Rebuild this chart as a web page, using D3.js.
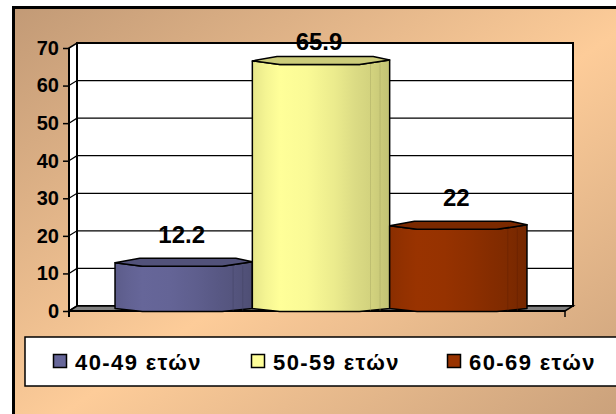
<!DOCTYPE html>
<html><head><meta charset="utf-8">
<script src="https://cdn.jsdelivr.net/npm/d3@7"></script>
<style>html,body{margin:0;padding:0;background:#fff;overflow:hidden}</style>
</head><body>
<svg id="c" width="616" height="414"></svg>
<script>
const seriesNames = ["40-49 ετών", "50-59 ετών", "60-69 ετών"];
const seriesValues = [12.2, 65.9, 22];
const seriesColors = ["#666699", "#ffff99", "#993300"];
const yTicks = [0, 10, 20, 30, 40, 50, 60, 70];

const svg = d3.select("#c");
const defs = svg.append("defs");

// background gradient
const bg = defs.append("linearGradient").attr("id","bg")
  .attr("x1",0).attr("y1",0).attr("x2",1).attr("y2",1);
bg.append("stop").attr("offset","0%").attr("stop-color","#c29a76");
bg.append("stop").attr("offset","50%").attr("stop-color","#fdcc99");
bg.append("stop").attr("offset","100%").attr("stop-color","#c39b77");

svg.append("rect").attr("x",13.5).attr("y",7.5).attr("width",640).attr("height",440)
  .attr("fill","url(#bg)").attr("stroke","#000").attr("stroke-width",3);

// geometry of 3D plot
const depthX = 8, depthY = 5;
const frontX0 = 69, frontX1 = 565;
const yFront = d3.scaleLinear().domain([0,70]).range([311, 48]);
const yBack = v => yFront(v) - depthY;
const yMid = v => yFront(v) - depthY/2;

// left wall
svg.append("path")
  .attr("d", `M${frontX0},${yFront(0)}L${frontX0},${yFront(70)}L${frontX0+depthX},${yBack(70)}L${frontX0+depthX},${yBack(0)}Z`)
  .attr("fill","#fff").attr("stroke","#000").attr("stroke-width",1.5);
// back wall
svg.append("rect").attr("x",frontX0+depthX).attr("y",yBack(70))
  .attr("width",frontX1-frontX0).attr("height",yBack(0)-yBack(70))
  .attr("fill","#fff").attr("stroke","#000").attr("stroke-width",2);
// gridlines
yTicks.filter(v=>v>0 && v<70).forEach(v=>{
  svg.append("path")
    .attr("d",`M${frontX0},${yFront(v)}L${frontX0+depthX},${yBack(v)}L${frontX1+depthX},${yBack(v)}`)
    .attr("fill","none").attr("stroke","#000").attr("stroke-width",1.2);
});
// floor
svg.append("path")
  .attr("d",`M${frontX0},${yFront(0)}L${frontX0+depthX},${yBack(0)}L${frontX1+depthX},${yBack(0)}L${frontX1},${yFront(0)}Z`)
  .attr("fill","#808080").attr("stroke","#000").attr("stroke-width",1.5);

// axis
svg.append("line").attr("x1",frontX0).attr("x2",frontX0).attr("y1",yFront(70)).attr("y2",yFront(0)+6)
  .attr("stroke","#000").attr("stroke-width",2);
svg.append("line").attr("x1",frontX0).attr("x2",frontX1).attr("y1",yFront(0)).attr("y2",yFront(0))
  .attr("stroke","#000").attr("stroke-width",2);
svg.append("line").attr("x1",frontX1).attr("x2",frontX1).attr("y1",yFront(0)).attr("y2",yFront(0)+6)
  .attr("stroke","#000").attr("stroke-width",1.5);
const ax = svg.append("g").attr("transform",`translate(${frontX0},0)`)
  .call(d3.axisLeft(yFront).tickValues(yTicks).tickSize(6).tickPadding(4).tickFormat(d3.format("d")));
ax.select(".domain").remove();
ax.selectAll("line").attr("stroke","#000").attr("stroke-width",1.5);
ax.selectAll("text").attr("font-family","Arial, 'Liberation Sans', sans-serif")
  .attr("font-size",20).attr("font-weight","bold").attr("fill","#000");

// bars
const x = d3.scaleBand().domain(seriesNames)
  .range([frontX0+depthX/2, frontX1+depthX/2]).paddingInner(0).paddingOuter(0.306);

function shade(c,k){const r=d3.rgb(c);return d3.rgb(r.r*k,r.g*k,r.b*k).formatHex();}
seriesColors.forEach((c,i)=>{
  const g = defs.append("linearGradient").attr("id","bar"+i).attr("x1",0).attr("x2",1).attr("y1",0).attr("y2",0);
  [[0,0.9],[0.1,0.96],[0.2,1.0],[0.4,0.98],[0.6,0.92],[0.75,0.86],[0.88,0.82],[1,0.76]].forEach(([o,k])=>{
    g.append("stop").attr("offset",o).attr("stop-color",shade(c,k));
  });
});

const yBot = yMid(0);
seriesNames.forEach((name,i)=>{
  const v = seriesValues[i];
  const x0 = x(name), w = x.bandwidth(), yc = yMid(v);
  const g = svg.append("g");
  g.append("path")
    .attr("d",`M${x0},${yc}L${x0+0.2*w},${yc+3.5}L${x0+0.78*w},${yc+3.5}L${x0+w},${yc-1}
      L${x0+w},${yBot}L${x0+0.78*w},${yBot+3}L${x0+0.2*w},${yBot+3}L${x0},${yBot}Z`)
    .attr("fill",`url(#bar${i})`).attr("stroke","#000").attr("stroke-width",1.5).attr("stroke-linejoin","round");
  [0.86,0.93].forEach(f=>{
    g.append("line").attr("x1",x0+f*w).attr("x2",x0+f*w).attr("y1",yc+3).attr("y2",yBot+2)
      .attr("stroke",shade(seriesColors[i],0.65)).attr("stroke-width",0.8).attr("opacity",0.6);
  });
  g.append("path")
    .attr("d",`M${x0},${yc}L${x0+0.18*w},${yc-4.5}L${x0+0.88*w},${yc-4.5}L${x0+w},${yc-1}
      L${x0+0.78*w},${yc+3.5}L${x0+0.2*w},${yc+3.5}Z`)
    .attr("fill",shade(seriesColors[i],0.8)).attr("stroke","#000").attr("stroke-width",1.5).attr("stroke-linejoin","round");
  g.append("text").attr("x",x0+w/2-2).attr("y",Math.max(yc-20, yFront(70)+2))
    .attr("text-anchor","middle").attr("font-family","Arial, 'Liberation Sans', sans-serif")
    .attr("font-size",24).attr("font-weight","bold").attr("fill","#000")
    .text(d3.format("")(v));
});

// legend
svg.append("rect").attr("x",25).attr("y",337).attr("width",620).attr("height",49)
  .attr("fill","#fff").attr("stroke","#000").attr("stroke-width",1.5);
const lx = d3.scaleLinear().domain([0,1]).range([53,251]);
seriesNames.forEach((name,i)=>{
  const gx = lx(i) - (i===2 ? 2 : 0);
  svg.append("rect").attr("x",gx+0.5).attr("y",354.5).attr("width",13).attr("height",13)
    .attr("fill",seriesColors[i]).attr("stroke","#000").attr("stroke-width",1.5);
  svg.append("text").attr("x",gx+22).attr("y",370)
    .attr("font-family","Arial, 'Liberation Sans', sans-serif").attr("font-size",22)
    .attr("font-weight","bold").attr("letter-spacing",1.4).attr("fill","#000").text(name);
});
</script>
</body></html>
